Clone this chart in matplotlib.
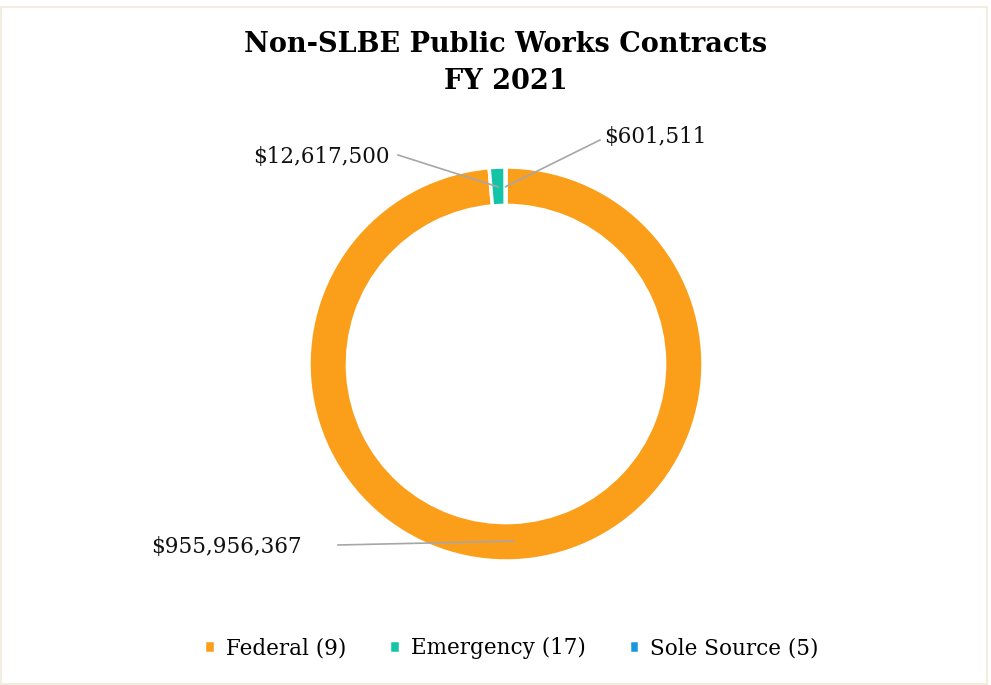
import numpy as np
import matplotlib.pyplot as plt
from matplotlib.patches import Rectangle

categories = ["Federal (9)", "Emergency (17)", "Sole Source (5)"]
values = [955956367, 12617500, 601511]
value_labels = ["$955,956,367", "$12,617,500", "$601,511"]
colors = ["#FB9F1B", "#14C4A6", "#1A96DE"]

plt.rcParams['font.family'] = ['DejaVu Serif']

W, H = 991, 685
fig = plt.figure(figsize=(W / 100, H / 100), dpi=100)
ax = fig.add_axes([0, 0, 1, 1])

# light frame around chart area
ax.add_patch(Rectangle((1, 1), W - 5, H - 8, fill=False, edgecolor='#efebdc', lw=1.2))

cx, cy, R = 506, H - 364, 197
wedges, _ = ax.pie(values, colors=colors, startangle=90, counterclock=False,
                   center=(cx, cy), radius=R, frame=True,
                   wedgeprops=dict(width=R * 0.195, edgecolor='white', linewidth=2.5))
ax.set_xlim(0, W)
ax.set_ylim(0, H)
ax.set_aspect('equal')
ax.axis('off')

# label text positions (px from top-left) and alignment
label_pos = [(302, 547, 'right'), (390, 157, 'right'), (604, 137, 'left')]
line_start = [(338, 545), (398, 155), (600, 140)]

for w, lab, (tx, ty, ha), (lx, ly) in zip(wedges, value_labels, label_pos, line_start):
    ang = np.deg2rad((w.theta1 + w.theta2) / 2)
    px = cx + R * 0.9 * np.cos(ang)
    py = cy + R * 0.9 * np.sin(ang)
    ax.plot([lx, px], [H - ly, py], color='#a6a6a6', lw=1.2, zorder=5)
    ax.text(tx, H - ty, lab, ha=ha, va='center', fontsize=15.5, color='#111111')

ax.text(W / 2 + 10, H - 63, "Non-SLBE Public Works Contracts\nFY 2021", ha='center',
        va='center', fontsize=19.5, fontweight='bold', linespacing=1.45)

leg = ax.legend(wedges, categories, loc='center', bbox_to_anchor=(0.516, 1 - 648 / H),
                ncol=3, frameon=False, fontsize=15.5, handlelength=0.5, handleheight=0.5,
                handletextpad=0.5, columnspacing=2.0)

fig.savefig("out.png", dpi=100)
